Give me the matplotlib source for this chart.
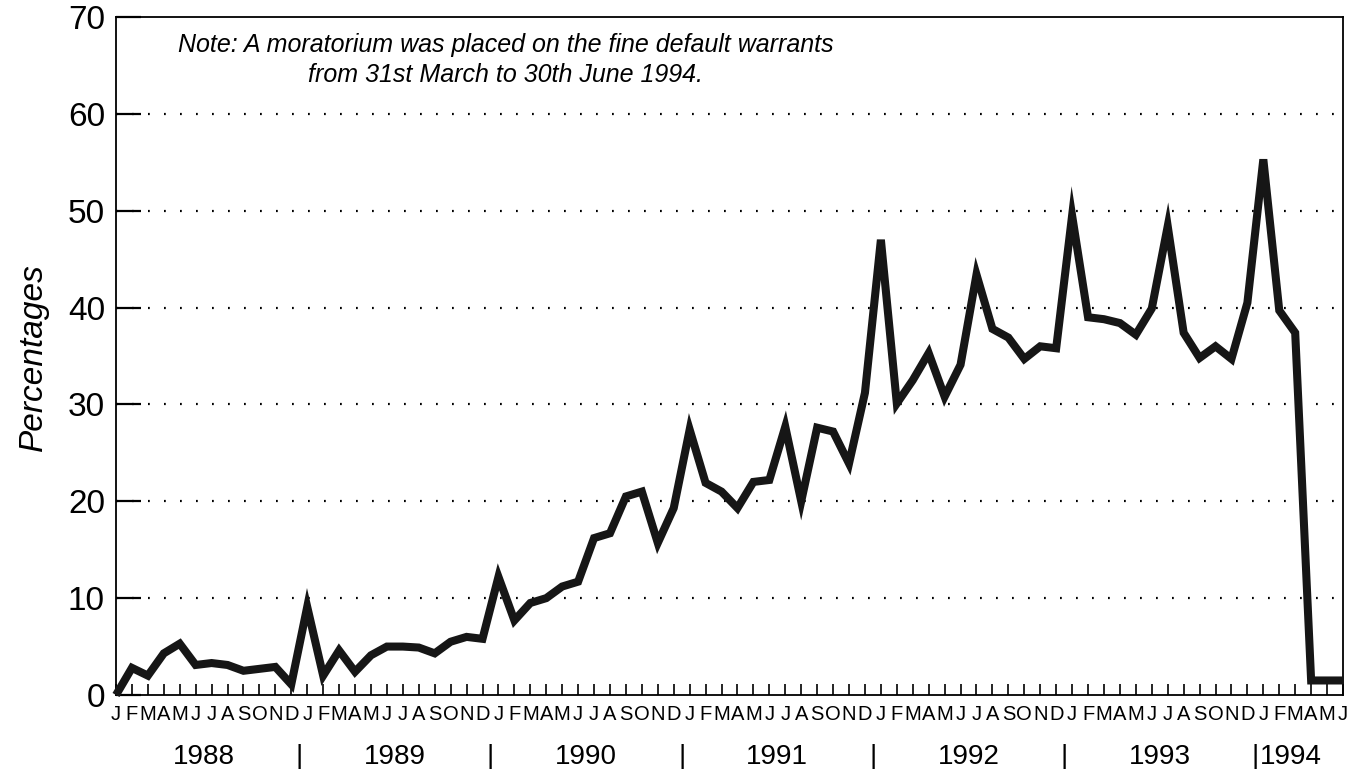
import matplotlib
matplotlib.use("Agg")
import matplotlib.pyplot as plt
import numpy as np

# ---- data ----
month_letters = ["J", "F", "M", "A", "M", "J", "J", "A", "S", "O", "N", "D"]
years = ["1988", "1989", "1990", "1991", "1992", "1993", "1994"]
v1988 = [0.0, 2.8, 2.0, 4.3, 5.3, 3.1, 3.3, 3.1, 2.5, 2.7, 2.9, 1.1]
v1989 = [9.1, 2.0, 4.6, 2.4, 4.1, 5.0, 5.0, 4.9, 4.3, 5.5, 6.0, 5.8]
v1990 = [12.2, 7.7, 9.5, 10.0, 11.2, 11.7, 16.2, 16.7, 20.5, 21.0, 15.7, 19.3]
v1991 = [27.4, 21.9, 21.0, 19.3, 22.0, 22.2, 27.7, 20.0, 27.6, 27.2, 23.9, 31.2]
v1992 = [47.0, 30.1, 32.5, 35.3, 30.8, 34.1, 43.4, 37.8, 36.9, 34.7, 36.0, 35.8]
v1993 = [49.5, 39.0, 38.8, 38.4, 37.2, 39.9, 48.4, 37.4, 34.8, 36.0, 34.7, 40.5]
v1994 = [55.3, 39.7, 37.4, 1.5, 1.5, 1.5]
y_ticks = [0, 10, 20, 30, 40, 50, 60, 70]
note_text = ("Note: A moratorium was placed on the fine default warrants\n"
             "from 31st March to 30th June 1994.")
y_label = "Percentages"

values = v1988 + v1989 + v1990 + v1991 + v1992 + v1993 + v1994
n = len(values)
x = np.arange(n)
month_labels = [month_letters[i % 12] for i in range(n)]

plt.rcParams['font.family'] = ['Liberation Sans', 'DejaVu Sans']

W, H = 1357, 769
fig = plt.figure(figsize=(W / 100, H / 100), dpi=100)
L, R, B, T = 116, 1343, 695, 17
ax = fig.add_axes([L / W, 1 - B / H, (R - L) / W, (B - T) / H])

ax.plot(x, values, color="#161616", lw=5.8, solid_joinstyle="miter",
        solid_capstyle="butt", clip_on=False, zorder=3)

ax.set_xlim(0, n - 1)
ax.set_ylim(0, 70)

# y axis
ax.set_yticks(y_ticks)
ax.set_yticklabels([str(t) for t in y_ticks], fontsize=24)
ax.tick_params(axis="y", direction="in", length=18, width=1.6, pad=8,
               colors="black")
for yt in y_ticks[1:-1]:
    ax.axhline(yt, color="black", lw=1.6, linestyle=(0, (0.8, 6.4)),
               zorder=1)

# x axis
ax.set_xticks(x)
ax.set_xticklabels(month_labels, fontsize=14.5)
ax.tick_params(axis="x", direction="in", length=8, width=1.2, pad=7,
               colors="black")

for sp in ax.spines.values():
    sp.set_linewidth(1.3)
    sp.set_color("black")

# year labels and separators
trans = ax.get_xaxis_transform()
yrow = -0.092
for k, yr in enumerate(years):
    if yr == "1994":
        ax.text(71.5 + 0.3, yrow, yr, transform=trans, ha="left",
                va="center", fontsize=20, clip_on=False)
    else:
        ax.text(5.5 + 12 * k, yrow, yr, transform=trans, ha="center",
                va="center", fontsize=20, clip_on=False)
for k in range(6):
    ax.text(11.5 + 12 * k, yrow, "|", transform=trans, ha="center",
            va="center", fontsize=20, clip_on=False)

# y label
fig.text(33 / W, 1 - 357 / H, y_label, rotation=90, style="italic",
         fontsize=24, ha="center", va="center")

# note
ax.text(506 / W, 1 - 60 / H, note_text, transform=fig.transFigure,
        style="italic", fontsize=18, ha="center", va="center",
        multialignment="center", linespacing=1.3)

fig.savefig("out.png", dpi=100)
